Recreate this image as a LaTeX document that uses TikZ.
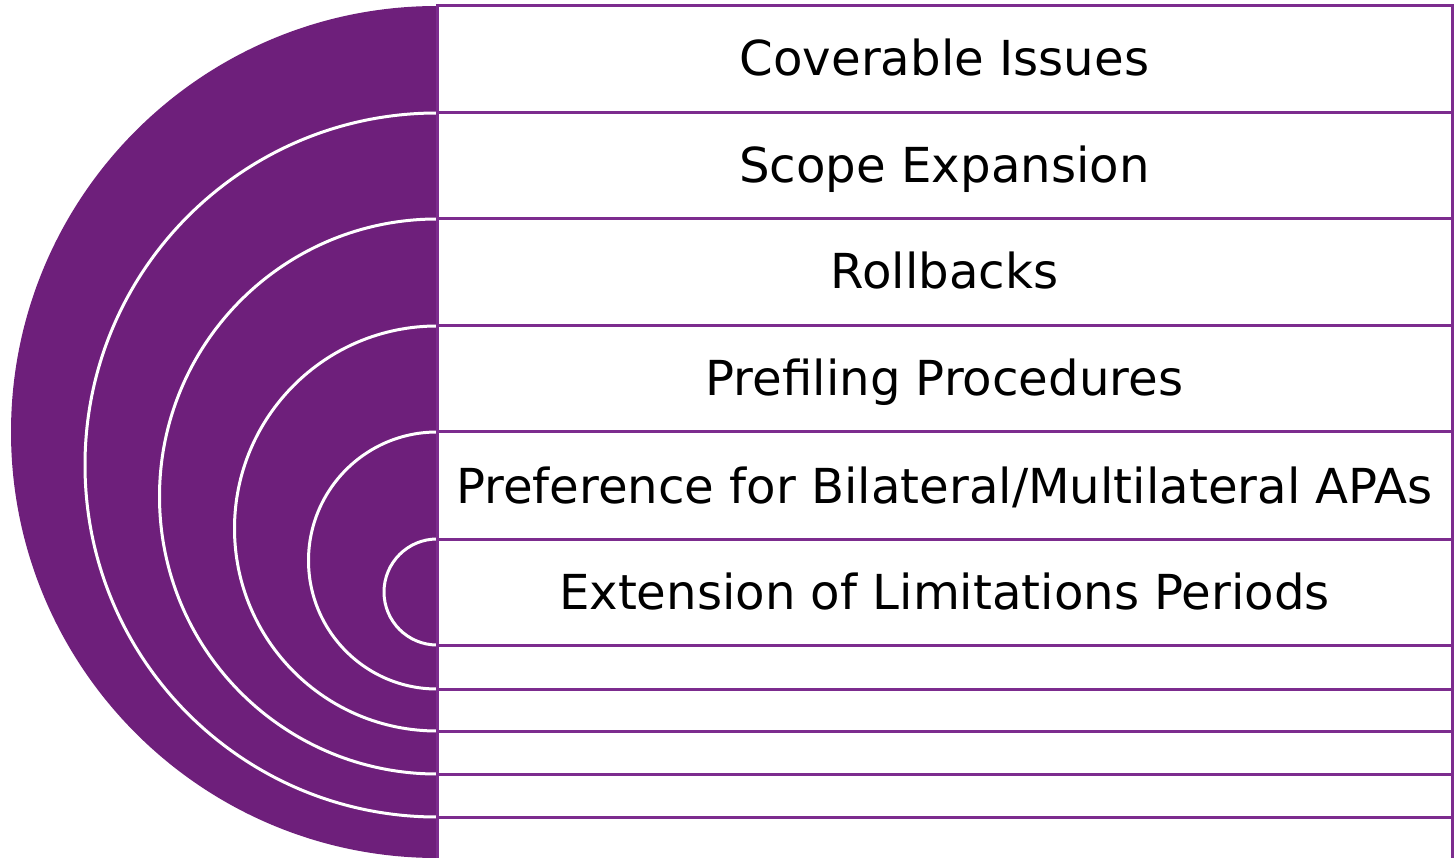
\documentclass[tikz,border=0pt]{standalone}
\usepackage{fontspec}
\setmainfont{DejaVu Sans}
\definecolor{plum}{HTML}{6E1F7B}
\definecolor{plumline}{HTML}{7C2C8E}
\begin{document}
\begin{tikzpicture}[x=1pt,y=-1pt,
  ring/.style={draw=white,line width=3pt},
  band/.style={fill=white,draw=plumline,line width=3pt},
  label/.style={anchor=base,inner sep=0pt,text=black,font=\fontsize{48.2}{58}\selectfont}]
\useasboundingbox (0,0) rectangle (1454,858);
% solid half disc
\fill[plum] (437,6) arc[start angle=90,end angle=270,radius=426pt] -- cycle;
% nested half rings, each ending on a band edge
\draw[ring] (437,113) arc[start angle=90,end angle=270,radius=352pt];
\draw[ring] (437,219) arc[start angle=90,end angle=270,radius=277.5pt];
\draw[ring] (437,326) arc[start angle=90,end angle=270,radius=202.5pt];
\draw[ring] (437,432) arc[start angle=90,end angle=270,radius=128.5pt];
\draw[ring] (437,539) arc[start angle=90,end angle=270,radius=53pt];
% stacked bands, outermost first
\draw[band] (437,6) rectangle (1452,862);
\draw[band] (437,113) rectangle (1452,817);
\draw[band] (437,219) rectangle (1452,774);
\draw[band] (437,326) rectangle (1452,731);
\draw[band] (437,432) rectangle (1452,689);
\draw[band] (437,539) rectangle (1452,645);
% labels
\node[label] (t1) at (944.5,76) {Coverable Issues};
\node[label] (t2) at (944.5,183) {Scope Expansion};
\node[label] (t3) at (944.5,289) {Rollbacks};
\node[label] (t4) at (944.5,396) {Prefiling Procedures};
\node[label] (t5) at (944.5,503) {Preference for Bilateral/Multilateral APAs};
\node[label] (t6) at (944.5,609) {Extension of Limitations Periods};
\end{tikzpicture}
\end{document}
